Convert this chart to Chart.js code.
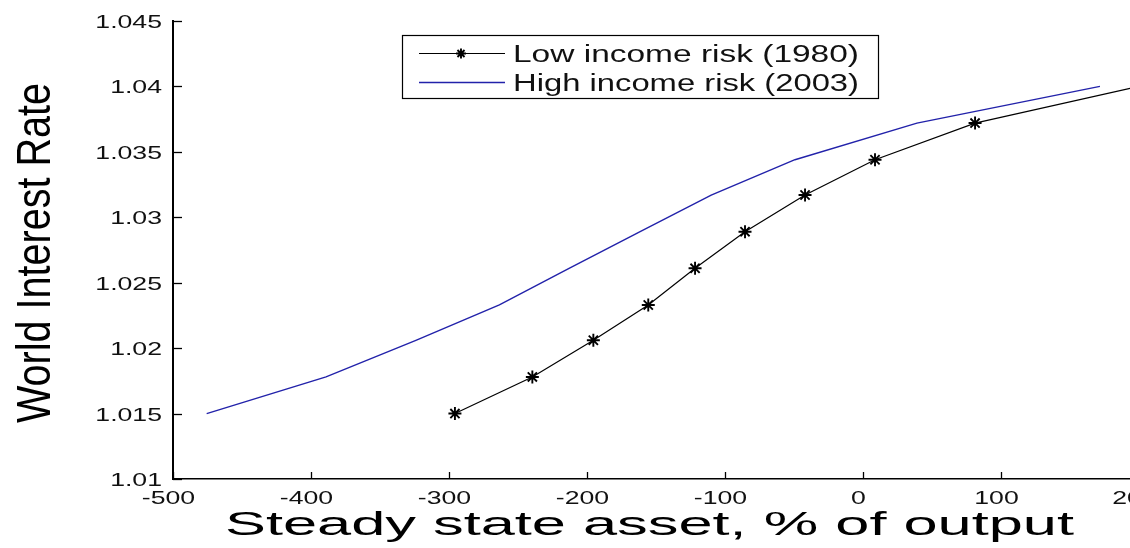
<!DOCTYPE html>
<html>
<head>
<meta charset="utf-8">
<title>World Interest Rate vs Steady State Asset</title>
<script src="https://cdn.jsdelivr.net/npm/chart.js@4.4.1/dist/chart.umd.min.js"></script>
<style>
  html, body { margin: 0; padding: 0; background: #fff; overflow: hidden; }
  #wrap { position: absolute; left: 0; top: 0; width: 1160px; height: 548px; }
</style>
</head>
<body>
<div id="wrap"><canvas id="chart" width="1160" height="548"></canvas></div>
<script>
// Interest-rate grid shared by both economies
const rateGrid = [1.0150, 1.0178, 1.0206, 1.0233, 1.0261, 1.0289, 1.0317, 1.0344, 1.0372, 1.0400];
// Steady state asset (% of output) at each rate
const assetsLowRisk  = [-295.7, -239.6, -195.4, -155.6, -121.7, -85.5, -42.0, 8.7, 81.2, 200.0];
const assetsHighRisk = [-475.6, -389.1, -324.0, -263.5, -213.0, -161.5, -110.0, -49.3, 39.1, 171.7];

const seriesLabels = ['Low income risk (1980)', 'High income risk (2003)'];

const xTickValues = [-500, -400, -300, -200, -100, 0, 100, 200];
const xTickLabels = ['-500', '-400', '-300', '-200', '-100', '0', '100', '200'];
const yTickValues = [1.01, 1.015, 1.02, 1.025, 1.03, 1.035, 1.04, 1.045];
const yTickLabels = ['1.01', '1.015', '1.02', '1.025', '1.03', '1.035', '1.04', '1.045'];

const xTitle = 'Steady state asset, % of output';
const yTitle = 'World Interest Rate';

const FONT = '"Liberation Sans", Arial, Helvetica, sans-serif';
const BLUE = '#2222aa';

function toPoints(xs, ys) {
  return xs.map((v, i) => ({ x: v, y: ys[i] }));
}

// Text drawn with an independent horizontal scale factor
function stretchedText(ctx, text, x, y, size, sx, align, baseline) {
  ctx.save();
  ctx.translate(x, y);
  ctx.scale(sx, 1);
  ctx.font = size + 'px ' + FONT;
  ctx.textAlign = align;
  ctx.textBaseline = baseline;
  ctx.fillText(text, 0, 0);
  ctx.restore();
}

function fittedText(ctx, text, x, y, size, width, baseline) {
  ctx.save();
  ctx.font = size + 'px ' + FONT;
  const w = ctx.measureText(text).width;
  ctx.restore();
  stretchedText(ctx, text, x, y, size, width / w, 'left', baseline);
}

function asterisk(ctx, x, y, r) {
  ctx.beginPath();
  for (let k = 0; k < 4; k++) {
    const a = k * Math.PI / 4;
    ctx.moveTo(x - r * Math.cos(a), y - r * Math.sin(a));
    ctx.lineTo(x + r * Math.cos(a), y + r * Math.sin(a));
  }
  ctx.stroke();
}

// Inward tick marks, stretched tick labels, axis titles and boxed legend
const axesDecor = {
  id: 'axesDecor',
  afterDraw(chart) {
    const { ctx, chartArea: a } = chart;
    const xs = chart.scales.x, ys = chart.scales.y;
    ctx.save();
    ctx.strokeStyle = '#000';
    ctx.fillStyle = '#111';
    ctx.lineWidth = 1.3;

    xTickValues.forEach((v, i) => {
      const px = Math.round(xs.getPixelForValue(v)) + 0.5;
      ctx.beginPath();
      ctx.moveTo(px, a.bottom);
      ctx.lineTo(px, a.bottom - 7);
      ctx.stroke();
      stretchedText(ctx, xTickLabels[i], px - 5, a.bottom + 24.5, 18, 1.48, 'center', 'alphabetic');
    });

    yTickValues.forEach((v, i) => {
      const py = Math.round(ys.getPixelForValue(v)) + 0.5;
      ctx.beginPath();
      ctx.moveTo(a.left, py);
      ctx.lineTo(a.left + 9, py);
      ctx.stroke();
      stretchedText(ctx, yTickLabels[i], a.left - 11, py + 6.5, 18, 1.48, 'right', 'alphabetic');
    });

    // x title
    ctx.fillStyle = '#000';
    fittedText(ctx, xTitle, 225, 535, 33, 849, 'alphabetic');

    // y title, rotated and condensed along its length
    ctx.save();
    ctx.font = '48px ' + FONT;
    const yw = ctx.measureText(yTitle).width;
    ctx.translate(50, 253);
    ctx.rotate(-Math.PI / 2);
    ctx.scale(340 / yw, 1);
    ctx.textAlign = 'center';
    ctx.textBaseline = 'alphabetic';
    ctx.fillText(yTitle, 0, 0);
    ctx.restore();

    // legend
    const ds = chart.data.datasets;
    ctx.lineWidth = 1.2;
    ctx.strokeStyle = '#000';
    ctx.strokeRect(402.5, 35.5, 476, 63);
    const rows = [53.5, 82.5];
    ds.forEach((d, i) => {
      const yRow = rows[i];
      ctx.strokeStyle = d.borderColor;
      ctx.lineWidth = d.borderWidth;
      ctx.beginPath();
      ctx.moveTo(419, yRow);
      ctx.lineTo(505, yRow);
      ctx.stroke();
      if (d.pointRadius > 0) {
        ctx.lineWidth = d.pointBorderWidth;
        asterisk(ctx, 461, yRow, 5);
      }
      ctx.fillStyle = '#111';
      fittedText(ctx, d.label, 513, yRow + 8.5, 23, 346, 'alphabetic');
    });
    ctx.restore();
  }
};

new Chart(document.getElementById('chart'), {
  type: 'scatter',
  data: {
    datasets: [
      {
        label: seriesLabels[0],
        data: toPoints(assetsLowRisk, rateGrid),
        showLine: true,
        borderColor: '#000',
        borderWidth: 1.2,
        pointStyle: 'star',
        pointRadius: 6.5,
        pointBorderColor: '#000',
        pointBorderWidth: 1.9,
        pointBackgroundColor: '#000',
        tension: 0
      },
      {
        label: seriesLabels[1],
        data: toPoints(assetsHighRisk, rateGrid),
        showLine: true,
        borderColor: BLUE,
        borderWidth: 1.4,
        pointRadius: 0,
        pointHoverRadius: 0,
        tension: 0
      }
    ]
  },
  options: {
    responsive: false,
    animation: false,
    devicePixelRatio: 1,
    layout: { padding: { left: 173, right: 21, top: 21, bottom: 69 } },
    plugins: { legend: { display: false }, tooltip: { enabled: false } },
    scales: {
      x: {
        type: 'linear',
        min: -500, max: 200,
        ticks: { display: false, stepSize: 100 },
        grid: { display: false, drawTicks: false },
        border: { display: true, color: '#000', width: 1.5 },
        title: { display: false, text: xTitle }
      },
      y: {
        type: 'linear',
        min: 1.01, max: 1.045,
        ticks: { display: false, stepSize: 0.005 },
        grid: { display: false, drawTicks: false },
        border: { display: true, color: '#000', width: 2 },
        title: { display: false, text: yTitle }
      }
    }
  },
  plugins: [axesDecor]
});
</script>
</body>
</html>
